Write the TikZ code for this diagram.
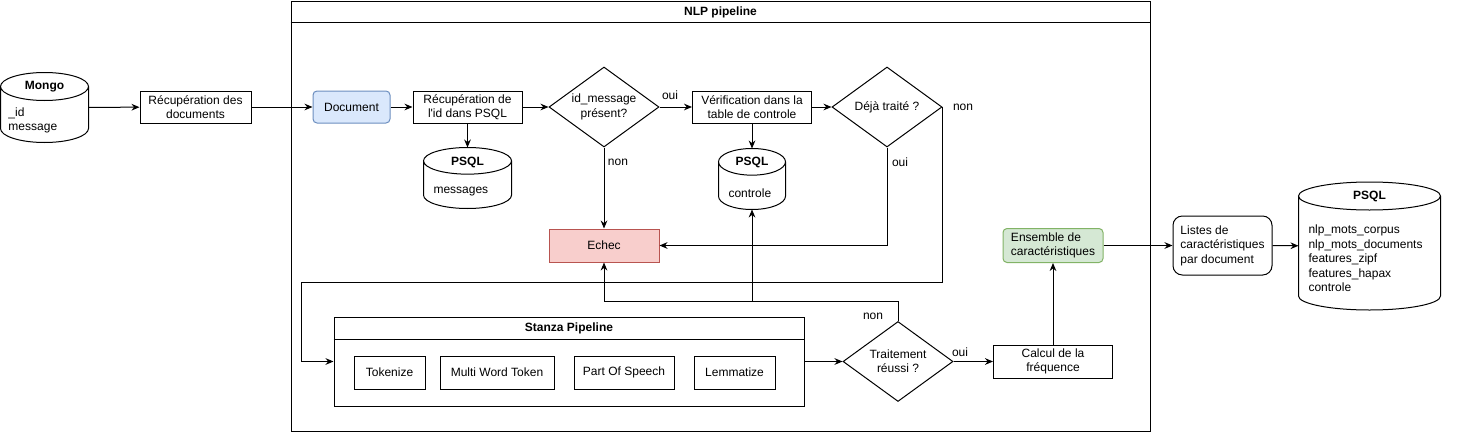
\documentclass[tikz,border=0pt]{standalone}
\usepackage{fontspec}
\setmainfont{Liberation Sans}
\usetikzlibrary{shapes.geometric, arrows.meta, calc}

\definecolor{docFill}{HTML}{DAE8FC}
\definecolor{docLine}{HTML}{6C8EBF}
\definecolor{failFill}{HTML}{F8CECC}
\definecolor{failLine}{HTML}{B85450}
\definecolor{featFill}{HTML}{D5E8D4}
\definecolor{featLine}{HTML}{82B366}

% outline of a database drum around a node, #2 = half height of the end ellipses
\newcommand{\dbOutline}[2]{%
\draw[fill=white] let \p1=(#1.north west), \p2=(#1.south east), \n1={(\x2-\x1)/2} in
	(\x1,\y1-#2) -- (\x1,\y2+#2) arc[start angle=180, end angle=360, x radius=\n1, y radius=#2]
	-- (\x2,\y1-#2) arc[start angle=0, end angle=180, x radius=\n1, y radius=#2]
	arc[start angle=180, end angle=360, x radius=\n1, y radius=#2];
}

\begin{document}
\begin{tikzpicture}[x=0.75pt, y=-0.75pt, line width=0.75pt,
font=\fontsize{9}{10.8}\selectfont,
>={Stealth[length=6pt, width=5pt]},
rectStep/.style={rectangle, draw=black, fill=white, minimum height=24.75pt, inner sep=2pt, align=center},
rectDocument/.style={rectStep, draw=docLine, fill=docFill, rounded corners=3pt},
rectFail/.style={rectStep, draw=failLine, fill=failFill},
rectFeature/.style={rectStep, draw=featLine, fill=featFill, rounded corners=3pt, align=left},
rectList/.style={rectStep, rounded corners=7pt, align=left},
rectFrame/.style={rectangle, draw=black, fill=none},
decision/.style={diamond, draw=black, fill=white, minimum width=82.5pt, minimum height=60pt, aspect=1.375, inner sep=0pt, align=center},
database/.style={rectangle, draw=none, inner sep=0pt},
dbTitle/.style={font=\fontsize{9}{10.8}\selectfont\bfseries, inner sep=0pt},
dbField/.style={anchor=west, align=left, inner sep=0pt},
answer/.style={inner sep=0pt}
]

\useasboundingbox (0,0) rectangle (1463,432);

\node[rectFrame, minimum width=644.25pt, minimum height=322.5pt] (nlpFrame) at (720.5, 216) {};
\draw ([yshift=-16.5pt]nlpFrame.north west) -- ([yshift=-16.5pt]nlpFrame.north east);
\node[dbTitle] (nlpTitle) at (720.5, 12) {NLP pipeline};

\node[database, minimum width=65.25pt, minimum height=51.75pt] (mongo) at (44.5, 107.5) {};
\dbOutline{mongo}{10.5pt}
\node[dbTitle] (mongoTitle) at (44.5, 87) {Mongo};
\node[dbField] (mongoFields) at (8, 120.5) {\_id\\message};

\node[rectStep, minimum width=83.25pt, minimum height=24pt] (recupDocs) at (195.5, 107) {Récupération des\\documents};
\node[rectDocument, minimum width=57.75pt, minimum height=24pt] (document) at (351.5, 107) {Document};
\node[rectStep, minimum width=81.75pt, minimum height=24pt] (recupId) at (467.5, 107) {Récupération de\\l\textquotesingle id dans PSQL};

\node[database, minimum width=65.25pt, minimum height=45pt] (msgDb) at (467.5, 178) {};
\dbOutline{msgDb}{10pt}
\node[dbTitle] (msgTitle) at (467.5, 162) {PSQL};
\node[dbField] (msgFields) at (433, 192) {messages};

\node[decision] (idPresent) at (604, 107) {id\_message\\présent?};
\node[rectStep, minimum width=89.25pt, minimum height=24pt] (verif) at (752, 107) {Vérification dans la\\table de controle};

\node[database, minimum width=49.5pt, minimum height=45pt] (ctrlDb) at (752, 179) {};
\dbOutline{ctrlDb}{10pt}
\node[dbTitle] (ctrlTitle) at (752, 162) {PSQL};
\node[dbField] (ctrlFields) at (728, 193) {controle};

\node[decision] (dejaTraite) at (887, 107) {Déjà traité ?};
\node[rectFail, minimum width=82.5pt] (echec) at (604, 245.5) {Echec};

\node[rectFrame, minimum width=352.5pt, minimum height=66.75pt] (stanza) at (569, 361.5) {};
\draw ([yshift=-17.25pt]stanza.north west) -- ([yshift=-17.25pt]stanza.north east);
\node[dbTitle] (stanzaTitle) at (569, 328) {Stanza Pipeline};

\node[rectStep, minimum width=53.25pt] (tokenize) at (389.5, 372.5) {Tokenize};
\node[rectStep, minimum width=85.5pt] (mwt) at (497, 372.5) {Multi Word Token};
\node[rectStep, minimum width=75pt] (pos) at (624, 372.5) {Part Of Speech};
\node[rectStep, minimum width=60.75pt] (lemma) at (734.5, 372.5) {Lemmatize};

\node[decision] (traitement) at (898, 361.5) {Traitement\\réussi ?};
\node[rectStep, minimum width=89.25pt] (calcul) at (1053, 361.5) {Calcul de la\\fréquence};
\node[rectFeature, minimum width=75pt, minimum height=25.5pt] (ensemble) at (1053, 245.5) {Ensemble de\\caractéristiques};

\node[rectList, minimum width=74.25pt, minimum height=44.25pt] (listes) at (1222.5, 245.5) {Listes de\\caractéristiques\\par document};

\node[database, minimum width=105.75pt, minimum height=95.25pt] (featDb) at (1369.5, 246) {};
\dbOutline{featDb}{10.5pt}
\node[dbTitle] (featTitle) at (1369.5, 196) {PSQL};
\node[dbField] (featFields) at (1308, 258.5) {nlp\_mots\_corpus\\nlp\_mots\_documents\\features\_zipf\\features\_hapax\\controle};

\node[answer] (ouiPresent) at (670, 95) {oui};
\node[answer] (nonPresent) at (618, 162) {non};
\node[answer] (nonTraite) at (963, 107) {non};
\node[answer] (ouiTraite) at (900, 162) {oui};
\node[answer] (nonReussi) at (873, 316) {non};
\node[answer] (ouiReussi) at (960, 352) {oui};

\coordinate (retryCorner) at (301, 282);
\coordinate (failJoin) at (752, 301.5);

\path[->]	(mongo)			edge	(recupDocs)
			(recupDocs)		edge	(document)
			(document)		edge	(recupId)
			(recupId)		edge	(msgDb)
			(recupId)		edge	(idPresent)
			(idPresent)		edge	(verif)
			(idPresent)		edge	(echec)
			(verif)			edge	(ctrlDb)
			(verif)			edge	(dejaTraite)
			(stanza)		edge	(traitement)
			(traitement)	edge	(calcul)
			(calcul)		edge	(ensemble)
			(ensemble)		edge	(listes)
			(listes)		edge	(featDb)
			(failJoin)		edge	(ctrlDb);

\draw[->] (dejaTraite) |- (echec);
\draw[->] (dejaTraite.east) |- (retryCorner) |- (stanza.west);
\draw[->] (traitement.north) |- (failJoin) -| (echec.south);

\end{tikzpicture}
\end{document}
